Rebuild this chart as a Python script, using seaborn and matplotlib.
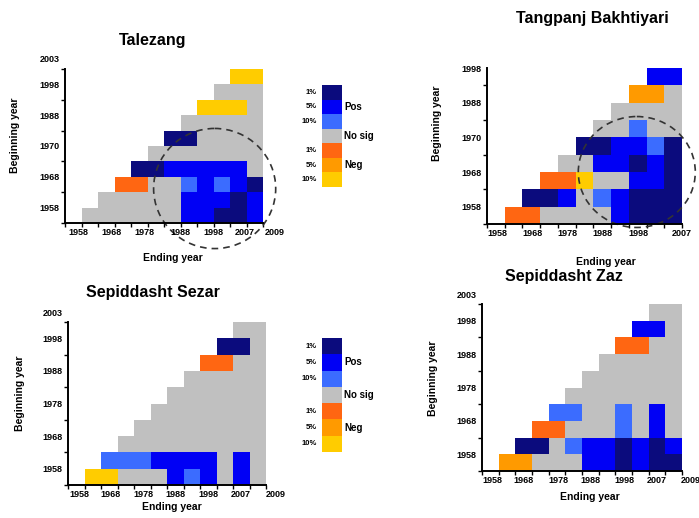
import numpy as np
import pandas as pd
import matplotlib
matplotlib.use("Agg")
import matplotlib.pyplot as plt
from matplotlib.colors import ListedColormap
from matplotlib.patches import Ellipse
import seaborn as sns

# -----------------------------
# Data
# -----------------------------
# significance classes: code letter -> colour (strong pos ... no sig ... weak neg)
class_codes = "NBLGROY"
class_colors = ["#0b0b7d", "#0000f5", "#3b6cff", "#c0c0c0", "#ff6612", "#ff9a00", "#ffcc00"]
legend_pct = ["1%", "5%", "10%", "", "1%", "5%", "10%"]
legend_side = ["", "Pos", "", "No sig", "", "Neg", ""]

# grids: rows from top (latest beginning year) to bottom, one char per 5-yr column, '.' = empty
talezang_rows = [
    "..........YY",
    ".........GGG",
    "........YYYG",
    ".......GGGGG",
    "......NNGGGG",
    ".....GGGGGGG",
    "....NNBBBBBG",
    "...RRGGLBLBN",
    "..GGGGGBBBNB",
    ".GGGGGGBBNNB",
]
tangpanj_rows = [
    ".........BB",
    "........OOG",
    ".......GGGG",
    "......GGLGG",
    ".....NNBBLN",
    "....GGBBNBN",
    "...RRYGGBBN",
    "..NNBGLBNNN",
    ".RRGGGGBNNN",
]
sezar_rows = [
    "..........GG",
    ".........NNG",
    "........RRGG",
    ".......GGGGG",
    "......GGGGGG",
    ".....GGGGGGG",
    "....GGGGGGGG",
    "...GGGGGGGGG",
    "..LLLBBBBGBG",
    ".YYGGGBLBGBG",
]
zaz_rows = [
    "..........GG",
    ".........BBG",
    "........RRGG",
    ".......GGGGG",
    "......GGGGGG",
    ".....GGGGGGG",
    "....LLGGLGBG",
    "...RRGGGLGBG",
    "..NNGLBBNBNB",
    ".OOGGGBBNBNN",
]

talezang_xlabels = ["1958", "1968", "1978", "1988", "1998", "2007", "2009"]
tangpanj_xlabels = ["1958", "1968", "1978", "1988", "1998", "2007"]
sezar_xlabels = ["1958", "1968", "1978", "1988", "1998", "2007", "2009"]
zaz_xlabels = ["1958", "1968", "1978", "1988", "1998", "2007", "2009"]

talezang_ylabels = ["1958", "1968", "1970", "1988", "1998"]
tangpanj_ylabels = ["1958", "1968", "1970", "1988", "1998"]
sezar_ylabels = ["1958", "1968", "1978", "1988", "1998"]
zaz_ylabels = ["1958", "1968", "1978", "1988", "1998"]

# -----------------------------
# Settings
# -----------------------------
sns.set_theme(style="white")
plt.rcParams["font.family"] = ["Liberation Sans", "DejaVu Sans"]
plt.rcParams["text.color"] = "black"
plt.rcParams["xtick.color"] = "black"
plt.rcParams["ytick.color"] = "black"
plt.rcParams["axes.labelcolor"] = "black"

W, H = 699, 518
fig = plt.figure(figsize=(W / 100, H / 100), dpi=100)
cmap = ListedColormap(class_colors)


def px_rect(left, top, right, bottom):
    return [left / W, 1 - bottom / H, (right - left) / W, (bottom - top) / H]


def fig_text(x, y, s, **kw):
    fig.text(x / W, 1 - y / H, s, **kw)


def to_grid(rows):
    return pd.DataFrame([[class_codes.index(c) if c != "." else np.nan for c in r] for r in rows])


def draw_panel(rect, rows, xlabels, xpos, ylabels, top_label=None):
    ax = fig.add_axes(px_rect(*rect))
    grid = to_grid(rows)
    nrow, ncol = grid.shape
    sns.heatmap(grid, ax=ax, cmap=cmap, vmin=-0.5, vmax=6.5, cbar=False,
                xticklabels=False, yticklabels=False)
    for s in ["left", "bottom"]:
        ax.spines[s].set_visible(True)
        ax.spines[s].set_color("black")
        ax.spines[s].set_linewidth(1.4)
    for s in ["right", "top"]:
        ax.spines[s].set_visible(False)

    ax.set_xticks([])
    ax.set_xticks(np.arange(ncol + 1), minor=True)
    ax.set_yticks(np.arange(nrow + 1), minor=True)
    ax.set_yticks([nrow - k for k in (1, 3, 5, 7, 9)])
    ax.set_yticklabels(ylabels, fontsize=6.5, fontweight="bold", rotation=0)
    ax.tick_params(which="minor", length=3, width=1, direction="out",
                   bottom=True, left=True, color="black")
    ax.tick_params(which="major", length=0, pad=4, left=True, labelcolor="black")
    ax.set_xlim(0, ncol)
    ax.set_ylim(nrow, 0)
    ax.set_xlabel("")
    ax.set_ylabel("")

    # x labels sit a little off the cell edges (and past the axis end for 2009)
    for lab, x in zip(xlabels, xpos):
        ax.annotate(lab, xy=(x, 0), xycoords=ax.get_xaxis_transform(),
                    xytext=(0, -5), textcoords="offset pixels",
                    ha="center", va="top", fontsize=6.5, fontweight="bold",
                    annotation_clip=False)
    if top_label:
        ax.annotate(top_label, xy=(0, 1), xycoords="axes fraction",
                    xytext=(-5, 9), textcoords="offset pixels",
                    ha="right", va="center", fontsize=6.5, fontweight="bold")
    return ax


def draw_legend(rect):
    ax = fig.add_axes(px_rect(*rect))
    sns.heatmap(pd.DataFrame(np.arange(7).reshape(7, 1)), ax=ax, cmap=cmap,
                vmin=-0.5, vmax=6.5, cbar=False, xticklabels=False, yticklabels=False)
    for i in range(7):
        if legend_pct[i]:
            ax.text(-0.25, i + 0.5, legend_pct[i], ha="right", va="center",
                    fontsize=5.5, fontweight="bold")
        if legend_side[i]:
            ax.text(1.12, i + 0.5, legend_side[i], ha="left", va="center",
                    fontsize=7, fontweight="bold")


# -----------------------------
# Panels
# -----------------------------
ax1 = draw_panel((65, 69, 263, 223), talezang_rows, talezang_xlabels,
                 [0.8, 2.85, 4.8, 7.0, 9.0, 10.9, 12.7], talezang_ylabels, "2003")
ax1.add_patch(Ellipse((9.07, 7.76), 7.4, 7.8, fill=False, ls=(0, (4, 3)),
                      lw=1.2, ec="#333333", clip_on=False))

ax2 = draw_panel((487, 68, 682, 224), tangpanj_rows, tangpanj_xlabels,
                 [0.6, 2.55, 4.55, 6.5, 8.55, 11.0], tangpanj_ylabels)
ax2.add_patch(Ellipse((8.45, 6.0), 6.6, 6.4, fill=False, ls=(0, (4, 3)),
                      lw=1.2, ec="#333333", clip_on=False))

draw_panel((68, 322, 266, 485), sezar_rows, sezar_xlabels,
           [0.7, 2.55, 4.55, 6.5, 8.5, 10.45, 12.6], sezar_ylabels, "2003")

draw_panel((482, 304, 682, 471), zaz_rows, zaz_xlabels,
           [0.6, 2.5, 4.6, 6.5, 8.55, 10.5, 12.5], zaz_ylabels, "2003")

draw_legend((322, 85, 342, 187))
draw_legend((322, 338, 342, 452))

# titles and axis labels
title_kw = dict(ha="center", va="center", fontsize=11.5, fontweight="bold")
fig_text(153, 40, "Talezang", **title_kw)
fig_text(592, 18, "Tangpanj Bakhtiyari", **title_kw)
fig_text(153, 292, "Sepiddasht Sezar", **title_kw)
fig_text(564, 277, "Sepiddasht Zaz", **title_kw)

lab_kw = dict(ha="center", va="center", fontsize=7.5, fontweight="bold")
fig_text(173, 258, "Ending year", **lab_kw)
fig_text(606, 262, "Ending year", **lab_kw)
fig_text(172, 507, "Ending year", **lab_kw)
fig_text(590, 497, "Ending year", **lab_kw)

fig_text(15, 135, "Beginning year", rotation=90, **lab_kw)
fig_text(437, 123, "Beginning year", rotation=90, **lab_kw)
fig_text(20, 393, "Beginning year", rotation=90, **lab_kw)
fig_text(433, 378, "Beginning year", rotation=90, **lab_kw)

fig.savefig("out.png", dpi=100)
